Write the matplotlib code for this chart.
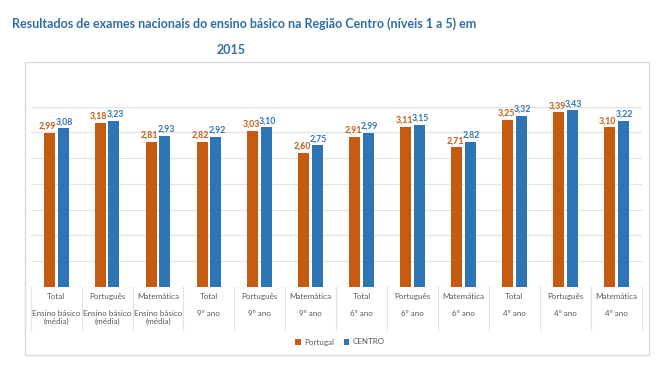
import matplotlib
matplotlib.use("Agg")
import matplotlib.pyplot as plt
from matplotlib.patches import Rectangle

plt.rcParams['font.family'] = ['Lato', 'DejaVu Sans']

row1 = ["Total", "Português", "Matemática"] * 4
row2 = ["Ensino básico\n(média)"] * 3 + ["9º ano"] * 3 + ["6º ano"] * 3 + ["4º ano"] * 3
portugal = [2.99, 3.18, 2.81, 2.82, 3.03, 2.60, 2.91, 3.11, 2.71, 3.25, 3.39, 3.10]
centro = [3.08, 3.23, 2.93, 2.92, 3.10, 2.75, 2.99, 3.15, 2.82, 3.32, 3.43, 3.22]
series_names = ["Portugal", "CENTRO"]
title = "Resultados de exames nacionais do ensino básico na Região Centro (níveis 1 a 5) em"
title2 = "2015"

c_pt = "#C55A11"
c_ce = "#2E75B6"
grid_c = "#E3E3E3"
txt_c = "#595959"

W, H = 664, 366
fig = plt.figure(figsize=(W / 100, H / 100), dpi=100)

def fx(px):
    return px / W

def fy(py):
    return 1 - py / H

# chart frame
fig.add_artist(Rectangle((fx(25), fy(355)), fx(649) - fx(25), fy(62) - fy(355),
                         transform=fig.transFigure, fill=False, edgecolor="#D9D9D9", lw=1))

fig.text(fx(12), fy(24), title, color="#2F6EA6", fontsize=9, fontweight="bold", va="center", ha="left")
fig.text(fx(231), fy(50), title2, color="#2F6EA6", fontsize=9, fontweight="bold", va="center", ha="center")

left, right, top, bottom = 30.7, 641.7, 106.7, 286.7
ax = fig.add_axes([fx(left), fy(bottom), fx(right) - fx(left), fy(top) - fy(bottom)])
n = len(portugal)
x = list(range(n))
bw = 0.216
off = 0.135
ax.bar([i - off for i in x], portugal, width=bw, color=c_pt, zorder=3, label=series_names[0])
ax.bar([i + off for i in x], centro, width=bw, color=c_ce, zorder=3, label=series_names[1])
ax.set_xlim(-0.5, n - 0.5)
ax.set_ylim(0, 3.5)
ax.set_yticks([0, 0.5, 1, 1.5, 2, 2.5, 3, 3.5])
ax.grid(axis="y", color=grid_c, lw=0.9, zorder=0)
ax.tick_params(left=False, bottom=False, labelleft=False, labelbottom=False)
for s in ax.spines.values():
    s.set_visible(False)
ax.set_facecolor("none")

for i in x:
    ax.annotate(f"{portugal[i]:.2f}".replace(".", ","), (i - off - 0.03, portugal[i]), xytext=(0, 1.5),
                textcoords="offset points", ha="center", va="bottom", fontsize=6.3, fontweight="bold", color=c_pt)
    ax.annotate(f"{centro[i]:.2f}".replace(".", ","), (i + off + 0.02, centro[i]), xytext=(0, 1.5),
                textcoords="offset points", ha="center", va="bottom", fontsize=6.3, fontweight="bold", color=c_ce)

tr = ax.get_xaxis_transform()
h = bottom - top
for i in x:
    ax.text(i, -(296.7 - bottom) / h, row1[i], transform=tr, ha="center", va="center",
            fontsize=5.8, color=txt_c, clip_on=False)
    ax.text(i, -(309.5 - bottom) / h, row2[i], transform=tr, ha="center", va="top",
            fontsize=5.8, color=txt_c, clip_on=False, linespacing=1.3)
for i in range(n + 1):
    ax.plot([i - 0.5, i - 0.5], [0, -(330 - bottom) / h], transform=tr, color=grid_c, lw=0.9, clip_on=False)

leg = fig.legend(loc="center", bbox_to_anchor=(fx(340), fy(342)), ncol=2, frameon=False,
                 fontsize=5.8, handlelength=0.7, handleheight=0.7, handletextpad=0.4, columnspacing=1.2)
for t in leg.get_texts():
    t.set_color(txt_c)

fig.savefig("out.png", dpi=100)
